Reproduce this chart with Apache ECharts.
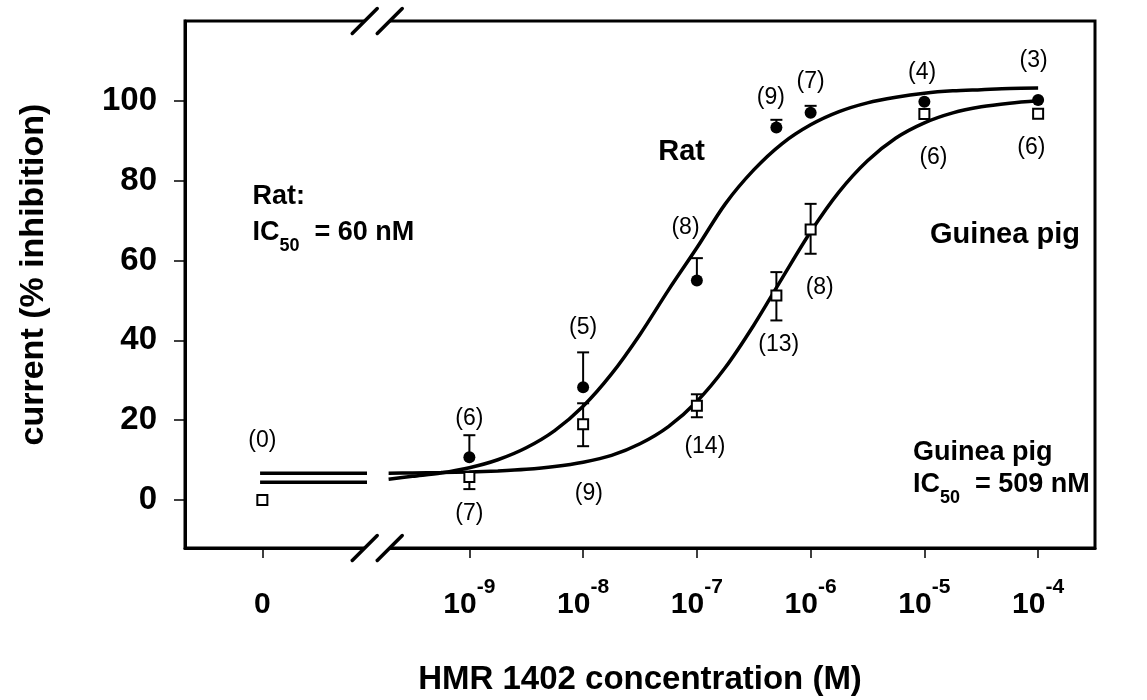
<!DOCTYPE html>
<html><head><meta charset="utf-8">
<script src="https://cdn.jsdelivr.net/npm/echarts@6/dist/echarts.min.js"></script>
<style>html,body{margin:0;padding:0;background:#fff}#c{width:1147px;height:700px}</style>
</head><body><div id="c"></div>
<script>
// x values are log10(concentration / M); the zero-concentration control is drawn at ZERO_POS
const ZERO_POS = -10.82;
const BREAK_X = -9.81;
const xTickValues = [ZERO_POS, -9, -8, -7, -6, -5, -4];
const xTickExp = [null, '-9', '-8', '-7', '-6', '-5', '-4'];
const yTickValues = [0, 20, 40, 60, 80, 100];

// Rat (filled circles)
const ratX = [-9, -8, -7, -6.301, -6, -5, -4];
const ratMean = [10.75, 28.25, 55, 93.3, 97, 99.8, 100.2];
const ratErrUp = [5.5, 8.75, 5.6, 1.95, 1.75, 0, 0];
const ratN = ['(6)', '(5)', '(8)', '(9)', '(7)', '(4)', '(3)'];
const ratNLabelX = [-9, -8, -7.10, -6.35, -6.0, -5.02, -4.04];
const ratNLabelY = [20.4, 43.2, 68.3, 100.8, 104.8, 107, 110];

// Guinea pig (open squares)
const gpX = [ZERO_POS, -9, -8, -7, -6.301, -6, -5, -4];
const gpMean = [0, 5.8, 19, 23.6, 51.25, 67.75, 96.7, 96.75];
const gpErrUp = [0, 0, 5.25, 2.9, 5.85, 6.45, 0, 0];
const gpErrDown = [0, 3.05, 5.5, 2.85, 6.25, 6.05, 0, 0];
const gpN = ['(0)', '(7)', '(9)', '(14)', '(13)', '(8)', '(6)', '(6)'];
const gpNLabelX = [ZERO_POS, -9, -7.95, -6.93, -6.28, -5.92, -4.92, -4.06];
const gpNLabelY = [15, -3.5, 1.7, 13.5, 39, 53.3, 85.8, 88.3];

// fitted curves
const curveLeftX = [-10.84, -9.90];
const ratCurveLeftY = [4.5, 4.5];
const gpCurveLeftY = [6.75, 6.75];
const curveX = [-9.71, -9.5, -9.25, -9, -8.75, -8.5, -8.25, -8, -7.75, -7.5, -7.25, -7, -6.75, -6.5, -6.25, -6, -5.75, -5.5, -5.25, -5, -4.75, -4.5, -4.25, -4];
const ratCurveY = [5.2, 5.96, 6.8, 8.1, 10.1, 13.1, 17.4, 23.5, 31.6, 41.5, 52.6, 63.2, 74.2, 82.7, 89.3, 94.0, 97.3, 99.5, 100.9, 101.9, 102.5, 102.8, 103.1, 103.2];
const gpCurveY = [6.75, 6.8, 6.9, 7.05, 7.3, 7.7, 8.4, 9.5, 11.2, 14.1, 18.4, 24.7, 33.2, 43.8, 55.6, 67.2, 77.2, 85.0, 90.7, 94.5, 97.0, 98.5, 99.4, 100.0];

// text annotations
const notes = [
  {x: -7.34, y: 87.1, text: '{b|Rat}'},
  {x: -4.95, y: 66.4, text: '{b|Guinea pig}'},
  {x: -10.907, y: 74.8, text: '{m|Rat:}'},
  {x: -10.907, y: 66.0, text: '{m|IC}{sub|50}{m|  = 60 nM}'},
  {x: -5.10, y: 10.75, text: '{m|Guinea pig}'},
  {x: -5.10, y: 2.8, text: '{m|IC}{sub|50}{m|  = 509 nM}'}
];

const FONT = "'Liberation Sans', Arial, sans-serif";
const pair = (xs, ys) => xs.map((x, i) => [x, ys[i]]);

const chart = echarts.init(document.getElementById('c'), null, {renderer: 'canvas'});

function errRender(params, api) {
  const x = api.value(0), lo = api.value(1), hi = api.value(2), m = api.value(3);
  const pLo = api.coord([x, lo]), pHi = api.coord([x, hi]);
  const children = [];
  const st = {stroke: '#000', lineWidth: 2};
  if (hi === lo) return {type: 'group', children: []};
  children.push({type: 'line', shape: {x1: pLo[0], y1: pLo[1], x2: pHi[0], y2: pHi[1]}, style: st});
  const w = 6;
  if (hi > m) children.push({type: 'line', shape: {x1: pHi[0] - w, y1: pHi[1], x2: pHi[0] + w, y2: pHi[1]}, style: st});
  if (lo < m) children.push({type: 'line', shape: {x1: pLo[0] - w, y1: pLo[1], x2: pLo[0] + w, y2: pLo[1]}, style: st});
  return {type: 'group', children};
}

const ratErrData = ratX.map((x, i) => [x, ratMean[i], ratMean[i] + ratErrUp[i], ratMean[i]]);
const gpErrData = gpX.map((x, i) => [x, gpMean[i] - gpErrDown[i], gpMean[i] + gpErrUp[i], gpMean[i]]);

const curveStyle = {color: '#000', width: 3.5, opacity: 1};
const nLabel = (xs, ys, txt) => xs.map((x, i) => ({value: [x, ys[i]], label: {formatter: txt[i]}}));

const option = {
  animation: false,
  backgroundColor: '#fff',
  grid: {left: 185, right: 52, top: 21, bottom: 152, show: true, borderColor: '#000', borderWidth: 3, containLabel: false, outerBoundsMode: 'none'},
  xAxis: {
    type: 'value', min: -11.5, max: -3.5,
    name: 'HMR 1402 concentration (M)', nameLocation: 'middle', nameGap: 115,
    nameTextStyle: {fontFamily: FONT, fontWeight: 'bold', fontSize: 33, color: '#000'},
    axisLine: {show: true, onZero: false, lineStyle: {color: '#000', width: 3}},
    axisTick: {show: true, customValues: xTickValues, length: 10, lineStyle: {color: '#000', width: 1.5}},
    axisLabel: {
      show: true, customValues: xTickValues, margin: 29, color: '#000',
      formatter: (v) => {
        const i = xTickValues.findIndex(t => Math.abs(t - v) < 1e-6);
        if (i <= 0) return '{b|0}';
        return '{b|10}{s|' + xTickExp[i] + '}';
      },
      rich: {
        b: {fontFamily: FONT, fontWeight: 'bold', fontSize: 30, color: '#000', lineHeight: 43, verticalAlign: 'bottom'},
        s: {fontFamily: FONT, fontWeight: 'bold', fontSize: 21, color: '#000', lineHeight: 43, verticalAlign: 'top'}
      }
    },
    splitLine: {show: false}
  },
  yAxis: {
    type: 'value', min: -12, max: 120,
    name: 'current (% inhibition)', nameLocation: 'middle', nameGap: 134,
    nameTextStyle: {fontFamily: FONT, fontWeight: 'bold', fontSize: 34, color: '#000', padding: [0, 0, 0, 20]},
    axisLine: {show: true, onZero: false, lineStyle: {color: '#000', width: 3}},
    axisTick: {show: true, customValues: yTickValues, length: 11, lineStyle: {color: '#000', width: 1.5}},
    axisLabel: {show: true, customValues: yTickValues, margin: 28, fontFamily: FONT, fontWeight: 'bold', fontSize: 33, color: '#000'},
    splitLine: {show: false}
  },
  series: [
    {type: 'line', data: pair(curveLeftX, ratCurveLeftY), showSymbol: false, lineStyle: curveStyle, z: 2},
    {type: 'line', data: pair(curveLeftX, gpCurveLeftY), showSymbol: false, lineStyle: curveStyle, z: 2},
    {type: 'line', data: pair(curveX, ratCurveY), smooth: 0.3, showSymbol: false, lineStyle: curveStyle, z: 2},
    {type: 'line', data: pair(curveX, gpCurveY), smooth: 0.3, showSymbol: false, lineStyle: curveStyle, z: 2},
    {type: 'custom', renderItem: errRender, data: ratErrData, z: 3},
    {type: 'custom', renderItem: errRender, data: gpErrData, z: 3},
    {type: 'scatter', data: pair(ratX, ratMean), symbol: 'circle', symbolSize: 12, itemStyle: {color: '#000', opacity: 1}, z: 4},
    {type: 'scatter', data: pair(gpX, gpMean), symbol: 'rect', symbolSize: 10, itemStyle: {color: '#fff', borderColor: '#000', borderWidth: 2, opacity: 1}, z: 4},
    {type: 'scatter', data: nLabel(ratNLabelX, ratNLabelY, ratN).concat(nLabel(gpNLabelX, gpNLabelY, gpN)), symbolSize: 0, z: 5,
      itemStyle: {opacity: 1},
      label: {show: true, position: 'inside', fontFamily: FONT, fontSize: 23, color: '#000', opacity: 1}},
    {type: 'scatter', data: notes.map(n => ({value: [n.x, n.y], label: {formatter: n.text}})), symbolSize: 0, z: 5,
      itemStyle: {opacity: 1},
      label: {show: true, position: 'right', distance: 0, color: '#000', opacity: 1,
        rich: {
          b: {fontFamily: FONT, fontWeight: 'bold', fontSize: 29, color: '#000'},
          m: {fontFamily: FONT, fontWeight: 'bold', fontSize: 27, color: '#000', lineHeight: 36, verticalAlign: 'top'},
          sub: {fontFamily: FONT, fontWeight: 'bold', fontSize: 18, color: '#000', lineHeight: 36, verticalAlign: 'bottom'}
        }}}
  ]
};
chart.setOption(option);

// axis-break marks on top and bottom frame lines
function drawBreak() {
  const top = chart.convertToPixel({gridIndex: 0}, [BREAK_X, 120]);
  const bot = chart.convertToPixel({gridIndex: 0}, [BREAK_X, -12]);
  const cx = top[0];
  const off = 12.5, h = 12.5;
  const els = [];
  [top[1], bot[1]].forEach(y => {
    els.push({type: 'rect', shape: {x: cx - off, y: y - 3, width: 2 * off, height: 6}, style: {fill: '#fff'}, z: 100});
    [-off, off].forEach(d => {
      els.push({type: 'line', shape: {x1: cx + d - h, y1: y + h, x2: cx + d + h, y2: y - h}, style: {stroke: '#000', lineWidth: 3.5, lineCap: 'round'}, z: 101});
    });
  });
  chart.setOption({graphic: els});
}
drawBreak();
</script></body></html>
